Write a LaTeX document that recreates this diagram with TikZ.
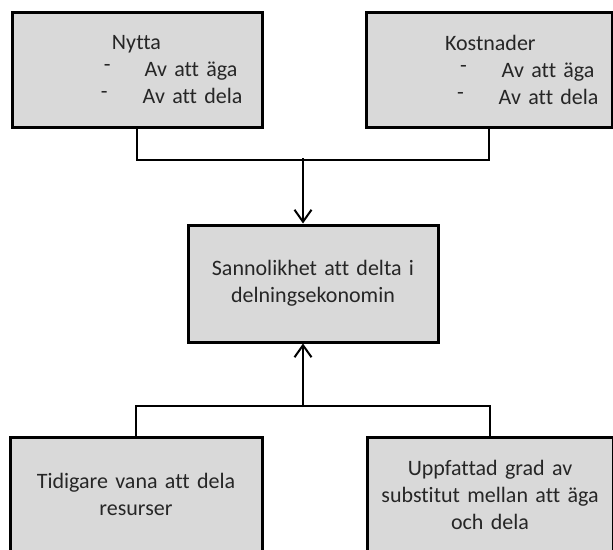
\documentclass[tikz,border=0pt]{standalone}
\usepackage{fontspec}
\setmainfont{Carlito}[Ligatures=NoCommon]
\usepackage{xcolor}
\usetikzlibrary{arrows.meta, calc}
\definecolor{boxGray}{HTML}{D9D9D9}
\def\boxwd{250pt}
\def\boxht{115pt}
\newcommand{\itemdash}{\raisebox{5pt}{-}}

\begin{document}
\begin{tikzpicture}[x=1pt, y=-1pt, line width=2pt]
  \tikzstyle{factor}=[draw, line width=3pt, fill=boxGray, inner sep=0pt,
    minimum width=\boxwd, minimum height=\boxht, text=black!85,
    font=\fontsize{22}{27}\selectfont]
  \tikzstyle{listbox}=[factor, text width=\boxwd, align=left]
  \tikzstyle{textbox}=[factor, text width=\boxwd, align=center]
  \tikzstyle{link}=[-{Straight Barb[length=12pt, width=17pt, line width=2pt]}]

  \useasboundingbox (0,0) rectangle (613,549);
  \clip (0,0) rectangle (613,549);

  % Draw the top boxes
  \node[listbox] (nytta) at (137,69.5) {%
    \hspace*{100pt}Nytta\\
    \hspace*{92pt}\itemdash\hspace*{34pt}Av att äga\\
    \hspace*{89pt}\itemdash\hspace*{35pt}Av att dela};
  \node[listbox, minimum width=246pt, text width=246pt] (kostnader) at (489,69.5) {%
    \hspace*{79pt}Kostnader\\
    \hspace*{94pt}\itemdash\hspace*{35pt}Av att äga\\
    \hspace*{91pt}\itemdash\hspace*{35pt}Av att dela};

  % Draw the centre box
  \node[textbox, minimum height=117pt] (sannolikhet) at (313,283.5)
    {Sannolikhet att delta i\\ delningsekonomin};

  % Draw the bottom boxes
  \node[textbox, minimum width=252pt, text width=252pt] (vana) at (136,494.5)
    {Tidigare vana att dela\\ resurser};
  \node[textbox, minimum width=246pt, text width=220pt] (substitut) at (490,494.5)
    {Uppfattad grad av\\ substitut mellan att äga\\ och dela};

  % Connect top boxes -> centre
  \coordinate (top join) at (303,158);
  \draw (nytta.south) -- ++(0,31) -| (kostnader.south);
  \draw[link] (top join) -- (top join |- sannolikhet.north);

  % Connect bottom boxes -> centre
  \coordinate (bottom join) at (303,407);
  \draw (vana.north) -- ++(0,-30) -| (substitut.north);
  \draw[link] (bottom join) -- (bottom join |- sannolikhet.south);
\end{tikzpicture}
\end{document}
